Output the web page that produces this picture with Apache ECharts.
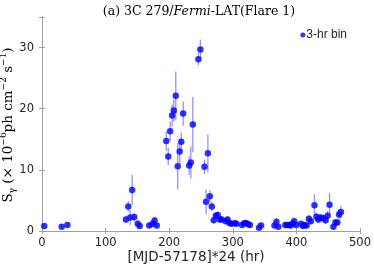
<!DOCTYPE html>
<html><head><meta charset="utf-8">
<script src="https://cdn.jsdelivr.net/npm/echarts@6/dist/echarts.min.js"></script>
<style>html,body{margin:0;padding:0;background:#fff}#c{width:374px;height:270px}</style>
</head><body><div id="c"></div>
<script>
const hours = [3.6,31,40,132,135.6,138.7,141.8,145,150.5,153.6,168.6,174,177,180.4,195.4,198.5,201.5,204.6,207.2,210.3,213.4,216.5,219,222,231.4,234,237.1,245.9,249,255.5,258,260.8,263.9,267,270,273.2,276.3,279.4,282.5,288.7,291.8,294.8,297.9,303,305.7,314.4,318,320.6,323.7,326.8,341.2,344.3,365.5,368.6,371.6,382.5,385.6,388,390.7,393.8,396.4,399.5,407.2,410.3,412.9,416,419.6,422.7,428.4,431.4,434.5,437.6,442.3,445.9,449,452.1,458.2,461.3,464.4,467,470];
const flux = [0.8,0.7,1.0,1.9,4.0,2.2,6.7,2.3,1.2,0.8,0.9,1.2,1.7,0.9,14.7,12.2,16.3,18.9,19.7,22.1,10.6,13.0,14.6,19.2,10.7,11.2,17.4,28.1,29.7,10.5,4.8,12.7,5.7,4.0,1.75,2.5,2.6,1.9,1.9,1.6,1.9,1.3,1.2,1.25,1.2,1.0,1.25,1.3,1.15,1.0,0.55,0.9,0.9,1.5,0.7,1.0,1.0,1.0,0.9,1.2,1.6,1.0,1.2,0.8,1.0,0.9,2.0,1.6,4.2,2.35,1.9,2.2,2.1,1.75,2.5,4.3,0.7,1.4,1.4,2.7,3.1];
const fluxErr = [0.3,0.3,0.3,0.6,0.9,1.2,2.5,0.7,0.5,0.4,0.4,0.5,0.6,0.4,1.6,1.4,1.6,1.8,1.8,4.0,3.8,2.0,1.5,2.0,1.5,2.6,4.5,1.0,1.6,1.2,2.0,3.1,1.0,0.8,0.5,0.5,0.6,0.5,0.5,0.4,0.5,0.4,0.4,0.4,0.4,0.4,0.4,0.4,0.4,0.4,0.3,0.4,0.4,0.5,0.3,0.4,0.4,0.4,0.4,0.4,0.5,0.4,0.4,0.4,0.4,0.4,0.6,0.5,1.8,0.7,0.6,0.6,0.6,0.6,0.8,1.9,0.4,0.5,0.5,0.8,1.0];
const xTicks = [0,100,200,300,400,500];
const yTicks = [0,10,20,30];

const pts = hours.map((h,i)=>[h, flux[i]]);
const errs = hours.map((h,i)=>[h, flux[i], fluxErr[i]]);
const chart = echarts.init(document.getElementById('c'), null, {renderer:'canvas'});
const axisCol = '#a0a0a0';
const labCol = '#262626';
chart.setOption({
  animation:false,
  title:{
    text:'{n|(a) 3C 279/}{i|Fermi}{n|-LAT(Flare 1)}',
    left:194, textAlign:'center', top:0,
    textStyle:{fontWeight:'normal', rich:{
      n:{fontFamily:'DejaVu Serif', fontSize:12.5, color:'#000', fontWeight:'normal'},
      i:{fontFamily:'DejaVu Serif', fontStyle:'italic', fontSize:12.5, color:'#000', fontWeight:'normal'}
    }}
  },
  legend:{
    data:[{name:'3-hr bin', icon:'circle'}],
    right:22, top:24, itemWidth:5, itemHeight:5, itemGap:2,
    textStyle:{fontFamily:'Liberation Sans', fontSize:12, color:labCol, padding:[0,0,0,-4]}
  },
  grid:{left:42, right:8, top:17, bottom:39},
  xAxis:[{
    type:'value', min:0, max:500, interval:100,
    axisLine:{lineStyle:{color:axisCol}},
    axisTick:{inside:true, length:3, lineStyle:{color:axisCol}},
    axisLabel:{color:labCol, fontFamily:'DejaVu Sans', fontSize:11.5, margin:6,
      formatter:v=> xTicks.includes(v)?String(v):''},
    splitLine:{show:false}
  },{
    type:'value', position:'top', min:0, max:500, interval:100,
    axisLine:{lineStyle:{color:axisCol}},
    axisTick:{inside:true, length:3, lineStyle:{color:axisCol}},
    axisLabel:{show:false}, splitLine:{show:false}
  }],
  yAxis:[{
    type:'value', min:0, max:35, interval:10,
    axisLine:{show:true, lineStyle:{color:axisCol}},
    axisTick:{show:true, inside:true, length:3, lineStyle:{color:axisCol}},
    axisLabel:{color:labCol, fontFamily:'DejaVu Sans', fontSize:11.5, margin:8,
      formatter:v=> yTicks.includes(v)?String(v):''},
    splitLine:{show:false}
  },{
    type:'value', position:'right', min:0, max:35, interval:10,
    axisLine:{show:true, lineStyle:{color:axisCol}},
    axisTick:{show:true, inside:true, length:3, lineStyle:{color:axisCol}},
    axisLabel:{show:false}, splitLine:{show:false}
  }],
  graphic:[{
    type:'text', x:196, y:257,
    style:{text:'[MJD-57178]*24 (hr)', textAlign:'center', textVerticalAlign:'middle',
      fontFamily:'DejaVu Sans', fontSize:13.5, fill:labCol}
  },{
    type:'text', x:8, y:125, rotation:Math.PI/2,
    style:{
      text:'{n|S}{sub|γ}{n| (× 10}{sup|−6}{n|ph cm}{sup|−2}{n| s}{sup|−1}{n|)}',
      textAlign:'center', textVerticalAlign:'middle',
      rich:{
        n:{fontFamily:'DejaVu Serif', fontSize:13.5, color:'#000', lineHeight:18, verticalAlign:'middle'},
        sup:{fontFamily:'DejaVu Serif', fontSize:9, color:'#000', lineHeight:18, verticalAlign:'top'},
        sub:{fontFamily:'DejaVu Serif', fontSize:9, color:'#000', lineHeight:18, verticalAlign:'bottom'}
      }
    }
  }],
  series:[{
    type:'custom', name:'err', silent:true, z:1,
    renderItem:function(params, api){
      const x=api.value(0), y=api.value(1), e=api.value(2);
      const p1=api.coord([x,y-e]), p2=api.coord([x,y+e]);
      return {type:'line', shape:{x1:p1[0],y1:p1[1],x2:p2[0],y2:p2[1]},
        style:{stroke:'rgba(110,110,255,0.75)', lineWidth:1.3}};
    },
    data:errs
  },{
    type:'scatter', name:'3-hr bin', data:pts, symbol:'circle', symbolSize:6.5, z:3,
    itemStyle:{color:'#0000ff'}
  }]
});
</script></body></html>
